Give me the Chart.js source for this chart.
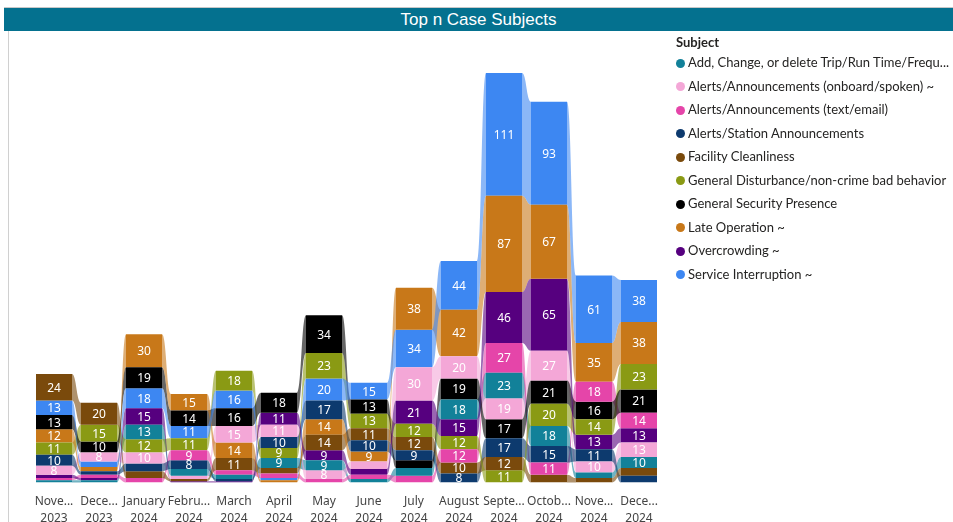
<!DOCTYPE html>
<html>
<head>
<meta charset="UTF-8">
<title>Top n Case Subjects</title>
<style>
* { margin: 0; padding: 0; box-sizing: border-box; }
body { width: 953px; height: 522px; background: #fff; position: relative; overflow: hidden; font-family: 'Noto Sans', sans-serif; }
.title-bar {
  position: absolute; left: 4px; top: 7px; width: 949px; height: 24px;
  background: #04718f; color: #fff; text-align: center;
  font-family: 'Liberation Sans', Arial, sans-serif; font-size: 17px; line-height: 24px;
  border-top: 1px solid #c8c8c8; z-index: 2;
}
.left-line { position: absolute; left: 8px; top: 31px; width: 1px; height: 491px; background: #d0d0d0; }
.chart-box { position: absolute; left: 0; top: 0; width: 953px; height: 530px; }
.legend { position: absolute; left: 676px; top: 33px; font-family: 'Lato', sans-serif; font-size: 13px; color: #252423; }
.legend h4 { font-size: 13px; font-weight: bold; height: 18px; line-height: 18px; margin-bottom: 2px; }
.legend .item { height: 23.5px; line-height: 18px; white-space: nowrap; }
.legend .dot { display: inline-block; width: 9px; height: 9px; border-radius: 50%; margin-right: 3px; vertical-align: -0.5px; }
</style>
<script src="https://cdn.jsdelivr.net/npm/chart.js"></script>
</head>
<body>
<div class="title-bar">Top n Case Subjects</div>
<div class="left-line"></div>
<div class="chart-box"><canvas id="ribbon" width="953" height="530"></canvas></div>
<div class="legend" id="legend"><h4>Subject</h4></div>
<script>
var months = [['Nove...', '2023'], ['Dece...', '2023'], ['January', '2024'], ['Febru...', '2024'],
  ['March', '2024'], ['April', '2024'], ['May', '2024'], ['June', '2024'], ['July', '2024'],
  ['August', '2024'], ['Septe...', '2024'], ['Octob...', '2024'], ['Nove...', '2024'], ['Dece...', '2024']];

var subjects = ['Add, Change, or delete Trip/Run Time/Frequ...', 'Alerts/Announcements (onboard/spoken) ~',
  'Alerts/Announcements (text/email)', 'Alerts/Station Announcements', 'Facility Cleanliness',
  'General Disturbance/non-crime bad behavior', 'General Security Presence', 'Late Operation ~',
  'Overcrowding ~', 'Service Interruption ~'];

var colors = ['#128199', '#f4a7d7', '#e545a9', '#0d3a6e', '#7a4a0c', '#8a9a14', '#000000', '#c87819', '#56007f', '#3d87f2'];

var addChange     = [2, 2, 13, 6, 4, 9, 9, 3, 7, 18, 23, 18, 5, 10];
var alertsOnboard = [8, 8, 10, 3, 15, 11, 8, 7, 30, 20, 19, 27, 10, 13];
var alertsText    = [2, 3, 4, 9, 4, 4, 3, 4, 6, 12, 27, 11, 18, 14];
var alertsStation = [10, 3, 7, 8, 2, 10, 17, 10, 9, 8, 17, 15, 11, 6];
var cleanliness   = [24, 20, 6, 2, 11, 5, 14, 11, 12, 10, 12, 7, 4, 7];
var disturbance   = [11, 15, 12, 11, 18, 9, 23, 13, 12, 12, 11, 20, 14, 23];
var security      = [13, 10, 19, 14, 16, 18, 34, 13, 7, 19, 17, 21, 16, 21];
var lateOperation = [12, 4, 30, 15, 14, 2, 14, 9, 38, 42, 87, 67, 35, 38];
var overcrowding  = [3, 2, 15, 1, 1, 11, 9, 5, 21, 15, 46, 65, 13, 13];
var interruption  = [13, 5, 18, 11, 16, 2, 20, 15, 34, 44, 111, 93, 61, 38];

var series = [addChange, alertsOnboard, alertsText, alertsStation, cleanliness,
  disturbance, security, lateOperation, overcrowding, interruption];

// rank each month: smallest at the bottom, ties put the later subject higher
var ranges = series.map(function() { return []; });
months.forEach(function(m, c) {
  var order = series.map(function(s, i) { return i; });
  order.sort(function(a, b) { return (series[a][c] - series[b][c]) || (a - b); });
  var acc = 0;
  order.forEach(function(i) {
    ranges[i][c] = [acc, acc + series[i][c]];
    acc += series[i][c];
  });
});

function hexA(hex, a) {
  var n = parseInt(hex.slice(1), 16);
  return 'rgba(' + (n >> 16) + ',' + ((n >> 8) & 255) + ',' + (n & 255) + ',' + a + ')';
}

var ribbons = {
  id: 'ribbons',
  beforeDatasetsDraw: function(chart) {
    var ctx = chart.ctx;
    chart.data.datasets.forEach(function(ds, i) {
      var bars = chart.getDatasetMeta(i).data;
      ctx.fillStyle = hexA(colors[i], 0.6);
      for (var c = 0; c < bars.length - 1; c++) {
        var a = bars[c].getProps(['x', 'y', 'base', 'width']);
        var b = bars[c + 1].getProps(['x', 'y', 'base', 'width']);
        var x1 = a.x + a.width / 2, x2 = b.x - b.width / 2, mx = (x1 + x2) / 2;
        ctx.beginPath();
        ctx.moveTo(x1, a.y);
        ctx.bezierCurveTo(mx, a.y, mx, b.y, x2, b.y);
        ctx.lineTo(x2, b.base);
        ctx.bezierCurveTo(mx, b.base, mx, a.base, x1, a.base);
        ctx.closePath();
        ctx.fill();
      }
    });
  },
  afterDatasetsDraw: function(chart) {
    var ctx = chart.ctx;
    ctx.fillStyle = '#fff';
    ctx.font = '12px "Noto Sans"';
    ctx.textAlign = 'center';
    ctx.textBaseline = 'middle';
    chart.data.datasets.forEach(function(ds, i) {
      chart.getDatasetMeta(i).data.forEach(function(bar, c) {
        var v = series[i][c];
        if (v < 8) return;
        var p = bar.getProps(['x', 'y', 'base']);
        ctx.fillText(v, p.x, (p.y + p.base) / 2 + 1);
      });
    });
  }
};

var legend = document.getElementById('legend');
subjects.forEach(function(s, i) {
  var d = document.createElement('div');
  d.className = 'item';
  d.innerHTML = '<span class="dot" style="background:' + colors[i] + '"></span>' + s;
  legend.appendChild(d);
});

new Chart(document.getElementById('ribbon'), {
  type: 'bar',
  data: {
    labels: months,
    datasets: subjects.map(function(s, i) {
      return { label: s, data: ranges[i], backgroundColor: colors[i], grouped: false,
        barPercentage: 0.8, categoryPercentage: 1, borderWidth: 0 };
    })
  },
  options: {
    responsive: false,
    animation: false,
    layout: { padding: { left: 31.5, right: 291.5, top: 73, bottom: 0 } },
    plugins: { legend: { display: false }, tooltip: { enabled: false } },
    scales: {
      x: {
        grid: { display: false }, border: { display: false },
        ticks: { color: '#444', autoSkip: false, maxRotation: 0, padding: 3,
          font: { family: 'Noto Sans', size: 12, lineHeight: 1.4 } }
      },
      y: { display: false, min: 0, max: 370 }
    }
  },
  plugins: [ribbons]
});
</script>
</body>
</html>
